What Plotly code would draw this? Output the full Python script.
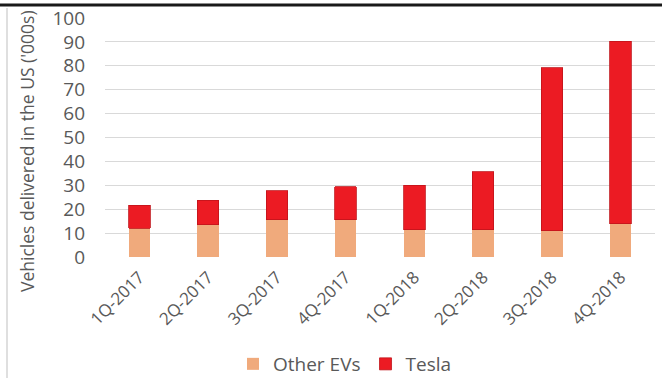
import plotly.graph_objects as go

quarters = ["1Q-2017", "2Q-2017", "3Q-2017", "4Q-2017", "1Q-2018", "2Q-2018", "3Q-2018", "4Q-2018"]
other_evs = [12.1, 13.4, 15.5, 15.5, 11.5, 11.4, 11.0, 13.9]
tesla = [9.5, 10.3, 12.2, 14.0, 18.5, 24.3, 68.1, 76.3]
y_ticks = list(range(0, 101, 10))

GRAY = "#595959"
FONT = "Open Sans"

fig = go.Figure()
fig.add_trace(go.Bar(x=quarters, y=other_evs, name="Other EVs",
                     marker=dict(color="#F0AA7C", line=dict(width=0))))
fig.add_trace(go.Bar(x=quarters, y=tesla, name="Tesla",
                     marker=dict(color="#EC1B23", line=dict(color="#C0141A", width=0.8))))

W, H = 662, 378
L, R, T, B = 105, 7, 18, 121
pw, ph = W - L - R, H - T - B

def px_x(x):
    return (x - L) / pw

def px_y(y):
    return (H - B - y) / ph

fig.update_layout(
    width=W, height=H,
    margin=dict(l=L, r=R, t=T, b=B, autoexpand=False),
    barmode="stack",
    bargap=0.69,
    plot_bgcolor="white",
    paper_bgcolor="white",
    font=dict(family=FONT, color=GRAY, size=16),
    showlegend=True,
    legend=dict(orientation="h", x=px_x(345), y=px_y(364), xanchor="center", yanchor="middle",
                font=dict(size=19, color=GRAY), itemwidth=30, traceorder="normal",
                bgcolor="rgba(0,0,0,0)"),
    xaxis=dict(tickangle=-45, tickfont=dict(size=17, color=GRAY), showgrid=False,
               showline=False, ticklabelstandoff=6, automargin=False),
    yaxis=dict(range=[0, 100], tickvals=y_ticks, showgrid=True, gridcolor="#D9D9D9", gridwidth=1,
               zeroline=False, showline=False, tickfont=dict(size=19, color=GRAY),
               ticklabelstandoff=19, automargin=False),
    shapes=[
        dict(type="line", xref="paper", yref="paper", x0=px_x(0), x1=px_x(W), y0=px_y(5), y1=px_y(5),
             line=dict(color="#1a1a1a", width=3)),
        dict(type="line", xref="paper", yref="paper", x0=px_x(7), x1=px_x(7), y0=px_y(8), y1=px_y(W),
             line=dict(color="#BFBFBF", width=1)),
    ],
    annotations=[
        dict(text="Vehicles delivered in the US ('000s)", textangle=-90, xref="paper", yref="paper",
             x=px_x(27), y=px_y(151), xanchor="center", yanchor="middle", showarrow=False,
             font=dict(size=17.5, color=GRAY)),
    ],
)

fig.write_html("out.html")
